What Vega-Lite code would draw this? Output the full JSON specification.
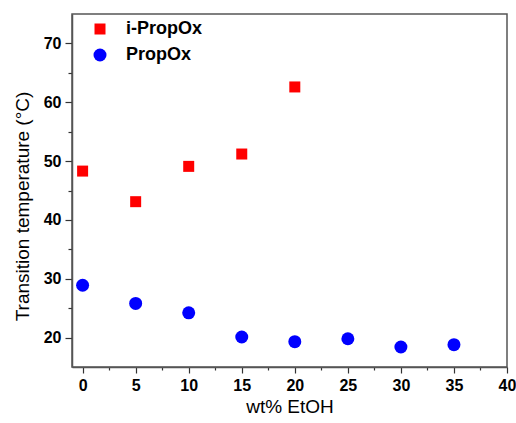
{
  "$schema": "https://vega.github.io/schema/vega-lite/v6.json",
  "width": 435,
  "height": 353,
  "autosize": "none",
  "padding": {"left": 72, "top": 14, "right": 9, "bottom": 56},
  "background": "white",
  "config": {
    "view": {"stroke": "#555", "strokeWidth": 1.5},
    "font": "Liberation Sans"
  },
  "data": {
    "values": [
      {"wt": 0, "temp": 48.3, "polymer": "i-PropOx"},
      {"wt": 5, "temp": 43.1, "polymer": "i-PropOx"},
      {"wt": 10, "temp": 49.1, "polymer": "i-PropOx"},
      {"wt": 15, "temp": 51.2, "polymer": "i-PropOx"},
      {"wt": 20, "temp": 62.6, "polymer": "i-PropOx"},
      {"wt": 0, "temp": 28.9, "polymer": "PropOx"},
      {"wt": 5, "temp": 25.8, "polymer": "PropOx"},
      {"wt": 10, "temp": 24.2, "polymer": "PropOx"},
      {"wt": 15, "temp": 20.1, "polymer": "PropOx"},
      {"wt": 20, "temp": 19.3, "polymer": "PropOx"},
      {"wt": 25, "temp": 19.8, "polymer": "PropOx"},
      {"wt": 30, "temp": 18.4, "polymer": "PropOx"},
      {"wt": 35, "temp": 18.8, "polymer": "PropOx"}
    ]
  },
  "mark": {"type": "point", "filled": true, "opacity": 1, "strokeWidth": 0},
  "encoding": {
    "x": {
      "field": "wt",
      "type": "quantitative",
      "scale": {"domain": [-1, 40], "nice": false, "zero": false},
      "axis": {
        "values": [0, 2.5, 5, 7.5, 10, 12.5, 15, 17.5, 20, 22.5, 25, 27.5, 30, 32.5, 35, 37.5, 40],
        "labelExpr": "datum.value % 5 === 0 ? datum.label : ''",
        "tickSize": {"condition": {"test": "datum.value % 5 === 0", "value": 6}, "value": 3},
        "title": "wt% EtOH",
        "grid": false,
        "domainColor": "#555",
        "domainWidth": 1.5,
        "tickColor": "#333",
        "tickWidth": 1.2,
        "labelFontWeight": "bold",
        "labelFontSize": 16,
        "labelColor": "#000",
        "labelPadding": 4,
        "labelOverlap": false,
        "labelFlush": false,
        "titleFontSize": 19,
        "titleFontWeight": "normal",
        "titleColor": "#000",
        "titleY": 39,
        "titleBaseline": "middle"
      }
    },
    "y": {
      "field": "temp",
      "type": "quantitative",
      "scale": {"domain": [15, 75], "nice": false, "zero": false},
      "axis": {
        "values": [20, 25, 30, 35, 40, 45, 50, 55, 60, 65, 70],
        "labelExpr": "datum.value % 10 === 0 ? datum.label : ''",
        "tickSize": {"condition": {"test": "datum.value % 10 === 0", "value": 7}, "value": 4},
        "title": "Transition temperature (°C)",
        "grid": false,
        "domainColor": "#555",
        "domainWidth": 1.5,
        "tickColor": "#333",
        "tickWidth": 1.2,
        "labelFontWeight": "bold",
        "labelFontSize": 16,
        "labelColor": "#000",
        "labelPadding": 4,
        "labelOverlap": false,
        "labelFlush": false,
        "titleFontSize": 19,
        "titleFontWeight": "normal",
        "titleColor": "#000",
        "titleX": -50,
        "titleY": 192,
        "titleAlign": "center",
        "titleBaseline": "middle",
        "titleAngle": -90
      }
    },
    "color": {
      "field": "polymer",
      "type": "nominal",
      "scale": {"domain": ["i-PropOx", "PropOx"], "range": ["#ff0000", "#0000ff"]},
      "legend": {
        "orient": "none",
        "legendX": 19,
        "legendY": 6,
        "title": null,
        "labelFontSize": 18,
        "labelFontWeight": "bold",
        "labelColor": "#000",
        "labelOffset": 17,
        "rowPadding": 8,
        "padding": 0,
        "symbolStrokeWidth": 0
      }
    },
    "shape": {
      "field": "polymer",
      "type": "nominal",
      "scale": {"domain": ["i-PropOx", "PropOx"], "range": ["square", "circle"]}
    },
    "size": {
      "field": "polymer",
      "type": "nominal",
      "scale": {"domain": ["i-PropOx", "PropOx"], "range": [121, 169]}
    }
  }
}
